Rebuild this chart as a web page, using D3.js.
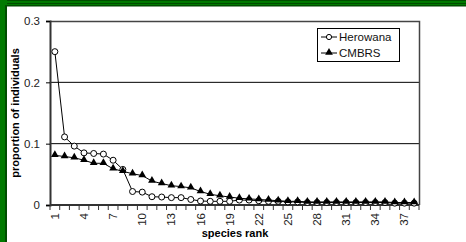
<!DOCTYPE html>
<html>
<head>
<meta charset="utf-8">
<script src="https://cdn.jsdelivr.net/npm/d3@7"></script>
<style>
  body { margin: 0; background: #fff; }
  svg { display: block; font-family: "Liberation Sans", Arial, sans-serif; }
</style>
</head>
<body>
<svg id="chart" width="466" height="242"></svg>
<script>
// species rank 1..38
var ranks = d3.range(1, 39);
var herowana = [0.250, 0.111, 0.096, 0.085, 0.084, 0.083, 0.073, 0.058, 0.022, 0.021,
                0.0135, 0.013, 0.012, 0.012, 0.009, 0.0065, 0.006, 0.006, 0.006, 0.008,
                0.008, 0.007, 0.006, 0.006, 0.005, 0.005, 0.004, 0.004, 0.004, 0.004,
                0.004, 0.004, 0.004, 0.004, 0.004, 0.003, 0.003, 0.003];
var cmbrs = [0.081, 0.079, 0.077, 0.073, 0.068, 0.068, 0.059, 0.055, 0.051, 0.048,
             0.039, 0.035, 0.0315, 0.030, 0.028, 0.022, 0.0175, 0.015, 0.013, 0.011,
             0.010, 0.009, 0.008, 0.007, 0.006, 0.006, 0.005, 0.005, 0.005, 0.005,
             0.005, 0.005, 0.005, 0.005, 0.005, 0.004, 0.004, 0.004];
var yTicks = [0, 0.1, 0.2, 0.3];
var seriesNames = ["Herowana", "CMBRS"];

var svg = d3.select("#chart");

// green frame (left and top only, picture is cropped)
var frame = svg.append("g");
frame.append("rect").attr("x", 0).attr("y", 0).attr("width", 466).attr("height", 6).attr("fill", "#007a00");
frame.append("rect").attr("x", 0).attr("y", 0).attr("width", 466).attr("height", 1).attr("fill", "#004d00");
frame.append("rect").attr("x", 0).attr("y", 3).attr("width", 466).attr("height", 1).attr("fill", "#004d00");
frame.append("rect").attr("x", 0).attr("y", 5).attr("width", 466).attr("height", 1.5).attr("fill", "#004d00");
frame.append("rect").attr("x", 0).attr("y", 0).attr("width", 7).attr("height", 242).attr("fill", "#007a00");
frame.append("rect").attr("x", 5).attr("y", 5).attr("width", 2).attr("height", 237).attr("fill", "#004d00");

var L = 50, R = 419, T = 21, B = 205;

var x = d3.scaleBand().domain(ranks).range([L, R]).padding(0);
var y = d3.scaleLinear().domain([0, 0.3]).range([B, T]);
var cx = function(r) { return x(r) + x.bandwidth() / 2; };

// gridlines
svg.append("g")
  .selectAll("line")
  .data(yTicks.filter(function(d) { return d > 0 && d < 0.3; }))
  .join("line")
  .attr("x1", L).attr("x2", R)
  .attr("y1", function(d) { return y(d); })
  .attr("y2", function(d) { return y(d); })
  .attr("stroke", "#000").attr("stroke-width", 1);

// plot border top/right
svg.append("path")
  .attr("d", "M" + L + "," + (T + 0.5) + "H" + (R + 0.5) + "V" + B)
  .attr("fill", "none").attr("stroke", "#444").attr("stroke-width", 1.5);

// y axis
var yAxis = svg.append("g")
  .attr("transform", "translate(" + L + ",0)")
  .call(d3.axisLeft(y).tickValues(yTicks).tickFormat(function(d) { return d === 0 ? "0" : d3.format(".1f")(d); }).tickSize(4).tickPadding(6));
yAxis.select(".domain").attr("stroke", "#333").attr("stroke-width", 2);
yAxis.selectAll("text").attr("font-size", 11.5).attr("fill", "#222");

// x axis
var xAxis = svg.append("g")
  .attr("transform", "translate(0," + B + ")");
xAxis.append("line").attr("x1", L).attr("x2", R).attr("stroke", "#333").attr("stroke-width", 2);
xAxis.selectAll("line.tk")
  .data(d3.range(0, ranks.length + 1))
  .join("line").attr("class", "tk")
  .attr("x1", function(i) { return L + i * x.step(); })
  .attr("x2", function(i) { return L + i * x.step(); })
  .attr("y1", 0).attr("y2", 5)
  .attr("stroke", "#333");
xAxis.selectAll("text")
  .data(ranks.filter(function(r) { return (r - 1) % 3 === 0; }))
  .join("text")
  .attr("transform", function(r) { return "translate(" + (cx(r) + 4) + ",8) rotate(-90)"; })
  .attr("text-anchor", "end")
  .attr("font-size", 11.5)
  .attr("fill", "#222")
  .text(function(r) { return r; });

// axis titles
svg.append("text")
  .attr("x", 235).attr("y", 237)
  .attr("text-anchor", "middle")
  .attr("font-size", 11).attr("font-weight", "bold")
  .text("species rank");
svg.append("text")
  .attr("transform", "translate(19,113) rotate(-90)")
  .attr("text-anchor", "middle")
  .attr("font-size", 11).attr("font-weight", "bold")
  .text("proportion of individuals");

// series (Herowana underneath, CMBRS on top)
var line = d3.line().x(function(d, i) { return cx(ranks[i]); }).y(function(d) { return y(d); });
var tri = d3.symbol().type(d3.symbolTriangle).size(26);

svg.append("path").datum(herowana).attr("d", line).attr("fill", "none").attr("stroke", "#000");
svg.append("g").selectAll("circle")
  .data(herowana).join("circle")
  .attr("cx", function(d, i) { return cx(ranks[i]); })
  .attr("cy", function(d) { return y(d); })
  .attr("r", 3).attr("fill", "#fff").attr("stroke", "#000");

svg.append("path").datum(cmbrs).attr("d", line).attr("fill", "none").attr("stroke", "#000");
svg.append("g").selectAll("path")
  .data(cmbrs).join("path")
  .attr("transform", function(d, i) { return "translate(" + cx(ranks[i]) + "," + (y(d) - 0.5) + ")"; })
  .attr("d", tri).attr("fill", "#000");

// legend
var lg = svg.append("g").attr("transform", "translate(317,28)");
lg.append("rect").attr("x", 0.5).attr("y", 0.5).attr("width", 82).attr("height", 33)
  .attr("fill", "#fff").attr("stroke", "#000");
seriesNames.forEach(function(name, i) {
  var yy = 9 + i * 16;
  lg.append("line").attr("x1", 4).attr("x2", 20).attr("y1", yy).attr("y2", yy).attr("stroke", "#000");
  if (i === 0) {
    lg.append("circle").attr("cx", 12).attr("cy", yy).attr("r", 2.6).attr("fill", "#fff").attr("stroke", "#000");
  } else {
    lg.append("path").attr("transform", "translate(12," + (yy - 0.5) + ")").attr("d", tri).attr("fill", "#000");
  }
  lg.append("text").attr("x", 22).attr("y", yy + 4).attr("font-size", 11.5).attr("fill", "#111").text(name);
});
</script>
</body>
</html>
